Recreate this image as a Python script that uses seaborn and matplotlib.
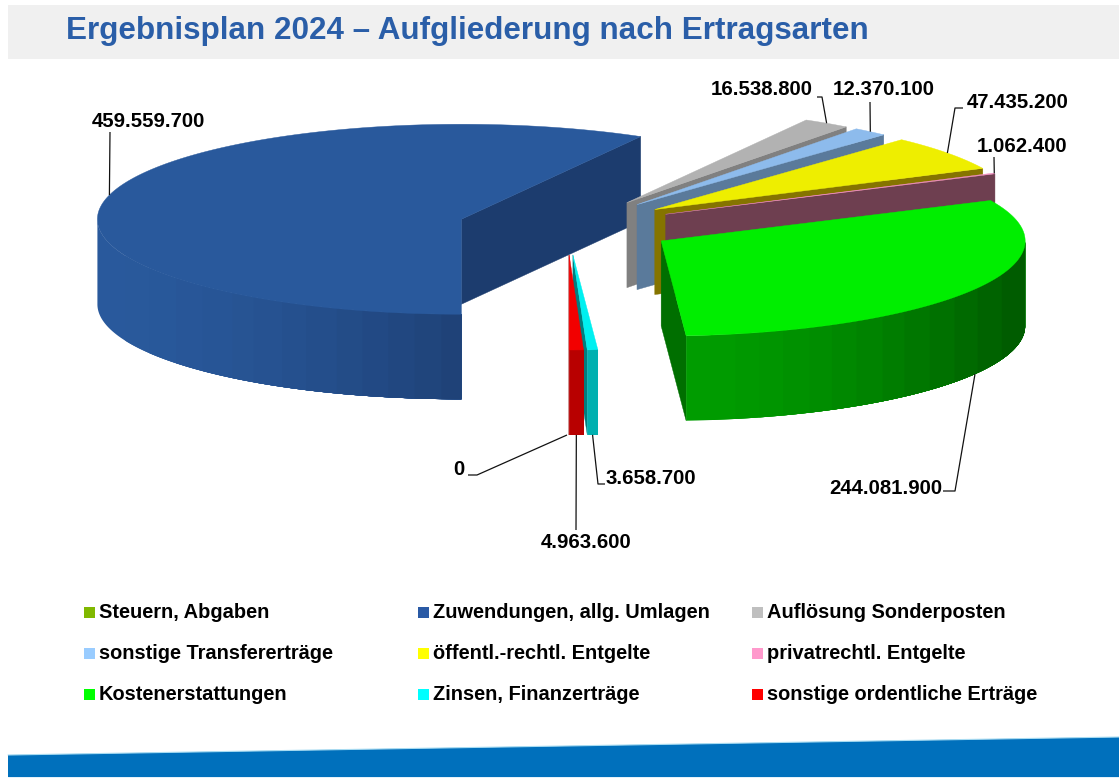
"""
Ergebnisplan 2024 - exploded 3D pie, built from the values
"""

import numpy as np
import pandas as pd
import matplotlib.pyplot as plt
from matplotlib.patches import Polygon, Rectangle
import seaborn as sns

categories = ['Steuern, Abgaben', 'Zuwendungen, allg. Umlagen', 'Auflösung Sonderposten',
              'sonstige Transfererträge', 'öffentl.-rechtl. Entgelte', 'privatrechtl. Entgelte',
              'Kostenerstattungen', 'Zinsen, Finanzerträge', 'sonstige ordentliche Erträge']
values = [0, 459559700, 16538800, 12370100, 47435200, 1062400, 244081900, 3658700, 4963600]

legend_colors = ['#80b800', '#2a5aa5', '#bfbfbf', '#99ccff', '#ffff00', '#ff99cc', '#00ff00', '#00ffff', '#ff0000']
top_colors = ['#80b800', '#29599c', '#b2b2b2', '#8dbbec', '#eeee00', '#f090c0', '#00ee00', '#00f0f0', '#f20000']
cut_colors = ['#556b00', '#1c3c6e', '#808080', '#5a7a9b', '#857400', '#6e3f50', '#006f00', '#007f7f', '#900000']
rim_light = ['#80b800', '#29599c', '#808080', '#5a7a9b', '#857400', '#6e3f50', '#009c00', '#00b0b0', '#b80000']
rim_dark = ['#80b800', '#1f4278', '#808080', '#5a7a9b', '#857400', '#6e3f50', '#005c00', '#00b0b0', '#b80000']

# pie geometry in pixels
CX, CY = 567, 226.5
RX, RY = 364, 95
EXPLODE = 0.30
DEPTH = 85
BANDS = 14

# label centre and leader elbow
label_pos = [(459, 469), (148, 121), (762, 89), (884, 89), (1018, 102), (1022, 146), (886, 488), (651, 478), (586, 542)]
label_elbows = [[(468, 475), (477, 475)], [(110, 132)], [(817, 97), (822, 97)], [(870, 102)],
                [(963, 108), (955, 108)], [(994, 157)], [(943, 491), (955, 491)], [(605, 484), (598, 484)], [(576, 530)]]

sns.set_theme(style='white')
plt.rcParams['font.family'] = ['Liberation Sans', 'DejaVu Sans']

df = pd.DataFrame({'category': categories, 'value': values})
df['sweep'] = df['value'] / df['value'].sum() * 2 * np.pi
df['end'] = df['sweep'].cumsum()
df['start'] = df['end'] - df['sweep']
df['mid'] = (df['start'] + df['end']) / 2
df['apex_x'] = CX - EXPLODE * RX * np.sin(df['mid'])
df['apex_y'] = CY + EXPLODE * RY * np.cos(df['mid'])


def rim_points(row, angles):
    # angles run clockwise from six o'clock
    return np.column_stack([row.apex_x - RX * np.sin(angles), row.apex_y + RY * np.cos(angles)])


fig = plt.figure(figsize=(11.19, 7.78), dpi=100)
ax = fig.add_axes([0, 0, 1, 1])
ax.set_xlim(0, 1119)
ax.set_ylim(778, 0)
ax.axis('off')

# slide furniture
ax.add_patch(Rectangle((8, 5), 1111, 54, color='#f0f0f0', lw=0))
ax.add_patch(Polygon([(8, 755), (1119, 737), (1119, 777), (8, 777)], color='#0070bc', lw=0))
ax.plot([8, 1119], [755, 737], color='#a8dcf2', lw=0.8)
ax.plot([8, 1119], [777.5, 777.5], color='#6cb8ea', lw=1)
ax.text(66, 31, 'Ergebnisplan 2024 – Aufgliederung nach Ertragsarten', fontsize=22.6,
        fontweight='bold', color='#2a5ea8', ha='left', va='center')

# slices, back to front
for i in range(1, len(values)):
    row = df.iloc[i]
    apex = np.array([row.apex_x, row.apex_y])
    edge_pt = rim_points(row, np.array([row.end]))[0]
    down = np.array([0, DEPTH])

    # visible cut face
    ax.add_patch(Polygon([apex, edge_pt, edge_pt + down, apex + down], facecolor=cut_colors[i],
                         edgecolor=cut_colors[i], lw=0.3))

    # outer wall, only where it faces the viewer, shaded in bands from left to right
    arc_t = np.linspace(row.start, row.end, 200)
    arc = rim_points(row, arc_t)
    wall = arc[np.cos(arc_t) > 0]
    if len(wall) > 1:
        wall = wall[np.argsort(wall[:, 0])]
        light = np.array(sns.color_palette([rim_light[i]])[0])
        dark = np.array(sns.color_palette([rim_dark[i]])[0])
        edges = np.linspace(wall[0, 0], wall[-1, 0], BANDS + 1)
        for k in range(BANDS):
            col = light + (dark - light) * (k / (BANDS - 1)) ** 1.5
            rest = wall[wall[:, 0] >= edges[k]]
            if len(rest) > 1:
                ax.add_patch(Polygon(np.vstack([rest, rest[::-1] + down]), facecolor=col, edgecolor='none'))

    # top face
    ax.add_patch(Polygon(np.vstack([apex, arc]), facecolor=top_colors[i], edgecolor=top_colors[i], lw=0.3))

# leaders and value labels
for i, row in df.iterrows():
    anchor = rim_points(row, np.array([row.mid]))[0]
    if np.cos(row.mid) > 0 and i != 1:
        anchor = anchor + np.array([0, DEPTH])
    pts = np.array(label_elbows[i] + [tuple(anchor)])
    ax.plot(pts[:, 0], pts[:, 1], color='#111111', lw=0.9, solid_capstyle='butt')
    ax.text(label_pos[i][0], label_pos[i][1], f'{row.value:,}'.replace(',', '.'), fontsize=14.7,
            fontweight='bold', color='black', ha='center', va='center')

# legend, three per row
for i, name in enumerate(categories):
    lx = 84 + 334 * (i % 3)
    ly = 612.5 + 41 * (i // 3)
    ax.add_patch(Rectangle((lx, ly - 5.5), 11, 11, color=legend_colors[i], lw=0))
    ax.text(lx + 15, ly, name, fontsize=14.4, fontweight='bold', color='black', ha='left', va='center')

plt.savefig('out.png', dpi=100)
